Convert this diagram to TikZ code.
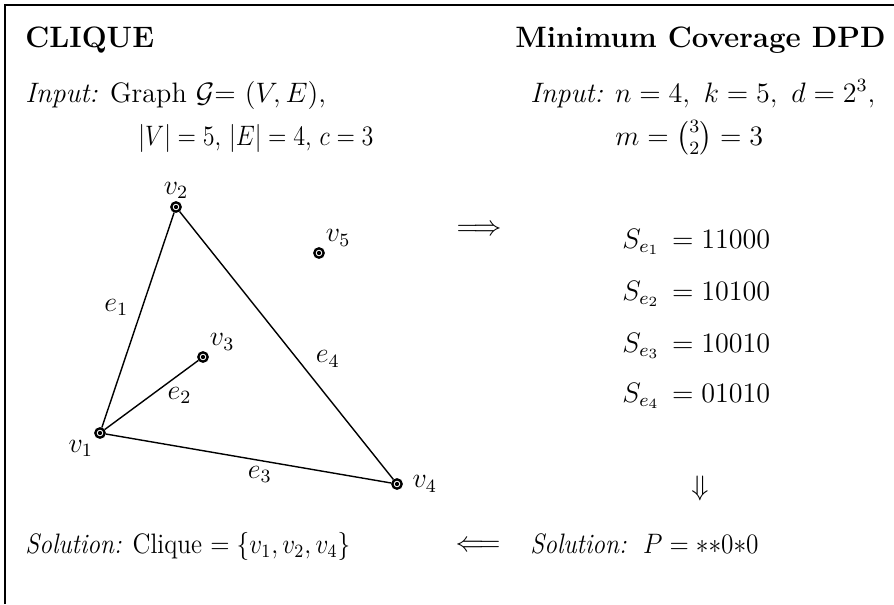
\documentclass[tikz,border=0pt]{standalone}
\usepackage{amsmath}
\usepackage{amssymb}
\usepackage{graphicx}
\usetikzlibrary{positioning}
\tikzset{
  frame/.style={draw=black, line width=0.9pt},
  txt/.style={anchor=base west, inner sep=0pt},
  head/.style={inner sep=0pt, font=\fontsize{12.6}{15}\selectfont\bfseries},
  vtx/.style={circle, draw=black, line width=1pt, fill=white, minimum size=1.4mm, inner sep=0pt,
              path picture={\fill[black] (path picture bounding box.center) circle (0.32mm);}},
  gline/.style={draw=black, line width=0.6pt},
  vlbl/.style={inner sep=1pt},
  elbl/.style={inner sep=0pt}
}
\newcommand{\narrow}[2][0.9]{\scalebox{#1}[1]{#2}}
\begin{document}
\begin{tikzpicture}[x=0.015cm, y=-0.015cm, every node/.style={font=\large}]
 \useasboundingbox (0,0) rectangle (894,604);
 \draw[frame] (5,604) -- (5,5) -- (894,5);
 % headings
 \node[head, anchor=base west] (ttl) at (25,47) {CLIQUE};
 \node[head, anchor=base east] (ttr) at (886,47) {Minimum Coverage DPD};
 \node[txt] (inl) at (25,102) {\textit{Input:} Graph $\mathcal{G}$= $(V,E)$,};
 \node[txt] (inl2) at (138,145) {\narrow[0.86]{$|V|=5$, $|E|=4$, $c=3$}};
 \node[txt] (inr) at (530,102) {\textit{Input:} $n=4,\ k=5,\ d=2^3,$};
 \node[txt] (inr2) at (615,145) {$m=\binom{3}{2}=3$};
 % graph
 \node[vtx, label={[vlbl]below left:$v_1$}] (v1) at (100,433) {};
 \node[vtx, label={[vlbl]above:$v_2$}] (v2) at (176,207) {};
 \node[vtx, label={[vlbl]above right:$v_3$}] (v3) at (203,357) {};
 \node[vtx, label={[vlbl, label distance=3pt]right:$v_4$}] (v4) at (397,484) {};
 \node[vtx, label={[vlbl]above right:$v_5$}] (v5) at (319,253) {};
 \draw[gline] (v1) -- node[elbl, pos=0.56, left=0.2cm] (le1) {$e_1$} (v2);
 \draw[gline] (v1) -- node[elbl, pos=0.8, below=0.18cm] (le2) {$e_2$} (v3);
 \draw[gline] (v1) -- node[elbl, pos=0.54, below=0.08cm] (le3) {$e_3$} (v4);
 \draw[gline] (v2) -- node[elbl, pos=0.55, right=0.27cm] (le4) {$e_4$} (v4);
 % sets
 \node (imp) at (479,230) {$\Longrightarrow$};
 \node[txt] (s1) at (622,248) {$S_{e_1}\,=11000$};
 \node[txt] (s2) at (622,300) {$S_{e_2}\,=10100$};
 \node[txt] (s3) at (622,352) {$S_{e_3}\,=10010$};
 \node[txt] (s4) at (622,402) {$S_{e_4}\,=01010$};
 \node (dn) at (700,488) {$\Downarrow$};
 % solutions
 \node[txt] (sol) at (25,553) {\narrow{\textit{Solution:} Clique $=\{v_1,v_2,v_4\}$}};
 \node (back) at (478,546) {$\Longleftarrow$};
 \node[txt] (sor) at (530,553) {\narrow{\textit{Solution:}\ \ $P={*}{*}0{*}0$}};
\end{tikzpicture}
\end{document}
